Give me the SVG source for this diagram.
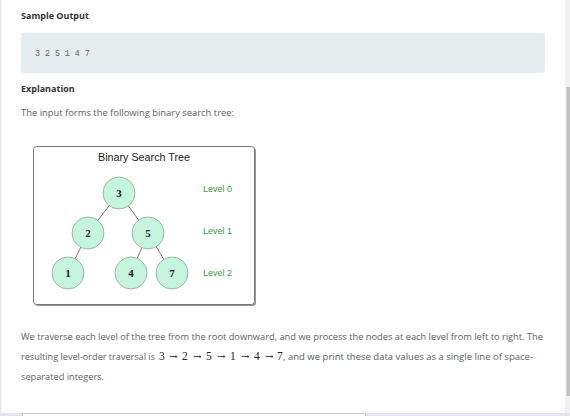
<svg xmlns="http://www.w3.org/2000/svg" width="570" height="416" viewBox="0 0 570 416">
<defs>
<style>
.h{font-family:"Open Sans","Liberation Sans",sans-serif;font-weight:bold;font-size:9px;fill:#333}
.p{font-family:"Open Sans","Liberation Sans",sans-serif;font-size:8.5px;fill:#5a5f63}
.m{font-family:"Liberation Serif","DejaVu Serif",serif;font-size:11.5px;fill:#222}
.a{font-family:"DejaVu Serif",serif;font-size:10px;fill:#222}
.node circle{fill:#c6f5dd;stroke:#86a894;stroke-width:0.8}
.node text{font-family:"Liberation Serif","Times New Roman",serif;font-weight:bold;font-size:11px;fill:#222;text-anchor:middle}
.lvl{font-family:"Liberation Sans",Arial,sans-serif;font-size:9px;fill:#3a9a3a}
.edge{stroke:#555;stroke-width:0.8}
</style>
</defs>
<rect width="570" height="416" fill="#ffffff"/>
<rect x="0" y="0" width="1.5" height="416" fill="#e6e9ec"/>
<rect x="565" y="0" width="5" height="413" fill="#f1f1f1"/>
<rect x="566.5" y="87" width="3.5" height="309" fill="#c1c1c1"/>
<rect x="0" y="413" width="570" height="3" fill="#e3e4ee"/>
<rect x="22.5" y="413.5" width="343" height="4" fill="#ffffff" stroke="#c8c8c8" stroke-width="1"/>

<text class="h" x="21" y="19">Sample Output</text>
<rect x="21" y="33" width="524" height="40" rx="2" fill="#e5edee"/>
<text x="35" y="56" font-family="Liberation Mono,DejaVu Sans Mono,monospace" font-size="8.3" fill="#666">3 2 5 1 4 7</text>
<text class="h" x="21" y="92">Explanation</text>
<text class="p" x="21" y="116" textLength="213" lengthAdjust="spacingAndGlyphs">The input forms the following binary search tree:</text>

<g id="diagram">
<rect x="35" y="148" width="221" height="158" rx="3" fill="#9a9a9a"/>
<rect x="33.5" y="146.5" width="221" height="158" rx="3" fill="#ffffff" stroke="#777" stroke-width="1"/>
<text x="144" y="161" font-family="Liberation Sans,Arial,sans-serif" font-size="10" fill="#222" text-anchor="middle" textLength="92" lengthAdjust="spacingAndGlyphs">Binary Search Tree</text>
</g>

<g id="connectors">
<line class="edge" x1="119" y1="193" x2="88" y2="233"/>
<line class="edge" x1="119" y1="193" x2="148" y2="233"/>
<line class="edge" x1="88" y1="233" x2="68" y2="273"/>
<line class="edge" x1="148" y1="233" x2="131" y2="273"/>
<line class="edge" x1="148" y1="233" x2="172" y2="273"/>
</g>

<g id="node-3" class="node"><circle cx="119" cy="193" r="16"/><text x="119" y="197">3</text></g>
<g id="node-2" class="node"><circle cx="88" cy="233" r="16"/><text x="88" y="237">2</text></g>
<g id="node-5" class="node"><circle cx="148" cy="233" r="16"/><text x="148" y="237">5</text></g>
<g id="node-1" class="node"><circle cx="68" cy="273" r="16"/><text x="68" y="277">1</text></g>
<g id="node-4" class="node"><circle cx="131" cy="273" r="16"/><text x="131" y="277">4</text></g>
<g id="node-7" class="node"><circle cx="172" cy="273" r="16"/><text x="172" y="277">7</text></g>

<g id="levels">
<text class="lvl" x="203" y="192">Level 0</text>
<text class="lvl" x="203" y="234">Level 1</text>
<text class="lvl" x="203" y="276">Level 2</text>
</g>

<text class="p" x="21" y="340" textLength="522" lengthAdjust="spacingAndGlyphs">We traverse each level of the tree from the root downward, and we process the nodes at each level from left to right. The</text>
<text class="p" x="21" y="360" textLength="134" lengthAdjust="spacingAndGlyphs">resulting level-order traversal is</text>
<text class="m" y="360"><tspan x="159">3</tspan><tspan x="182">2</tspan><tspan x="206">5</tspan><tspan x="230">1</tspan><tspan x="254">4</tspan><tspan x="277">7</tspan></text>
<text class="a" y="359.5"><tspan x="169">→</tspan><tspan x="193">→</tspan><tspan x="217">→</tspan><tspan x="241">→</tspan><tspan x="265">→</tspan></text>
<text class="p" x="283" y="360" textLength="250" lengthAdjust="spacingAndGlyphs">, and we print these data values as a single line of space-</text>
<text class="p" x="21" y="380" textLength="83" lengthAdjust="spacingAndGlyphs">separated integers.</text>
</svg>
